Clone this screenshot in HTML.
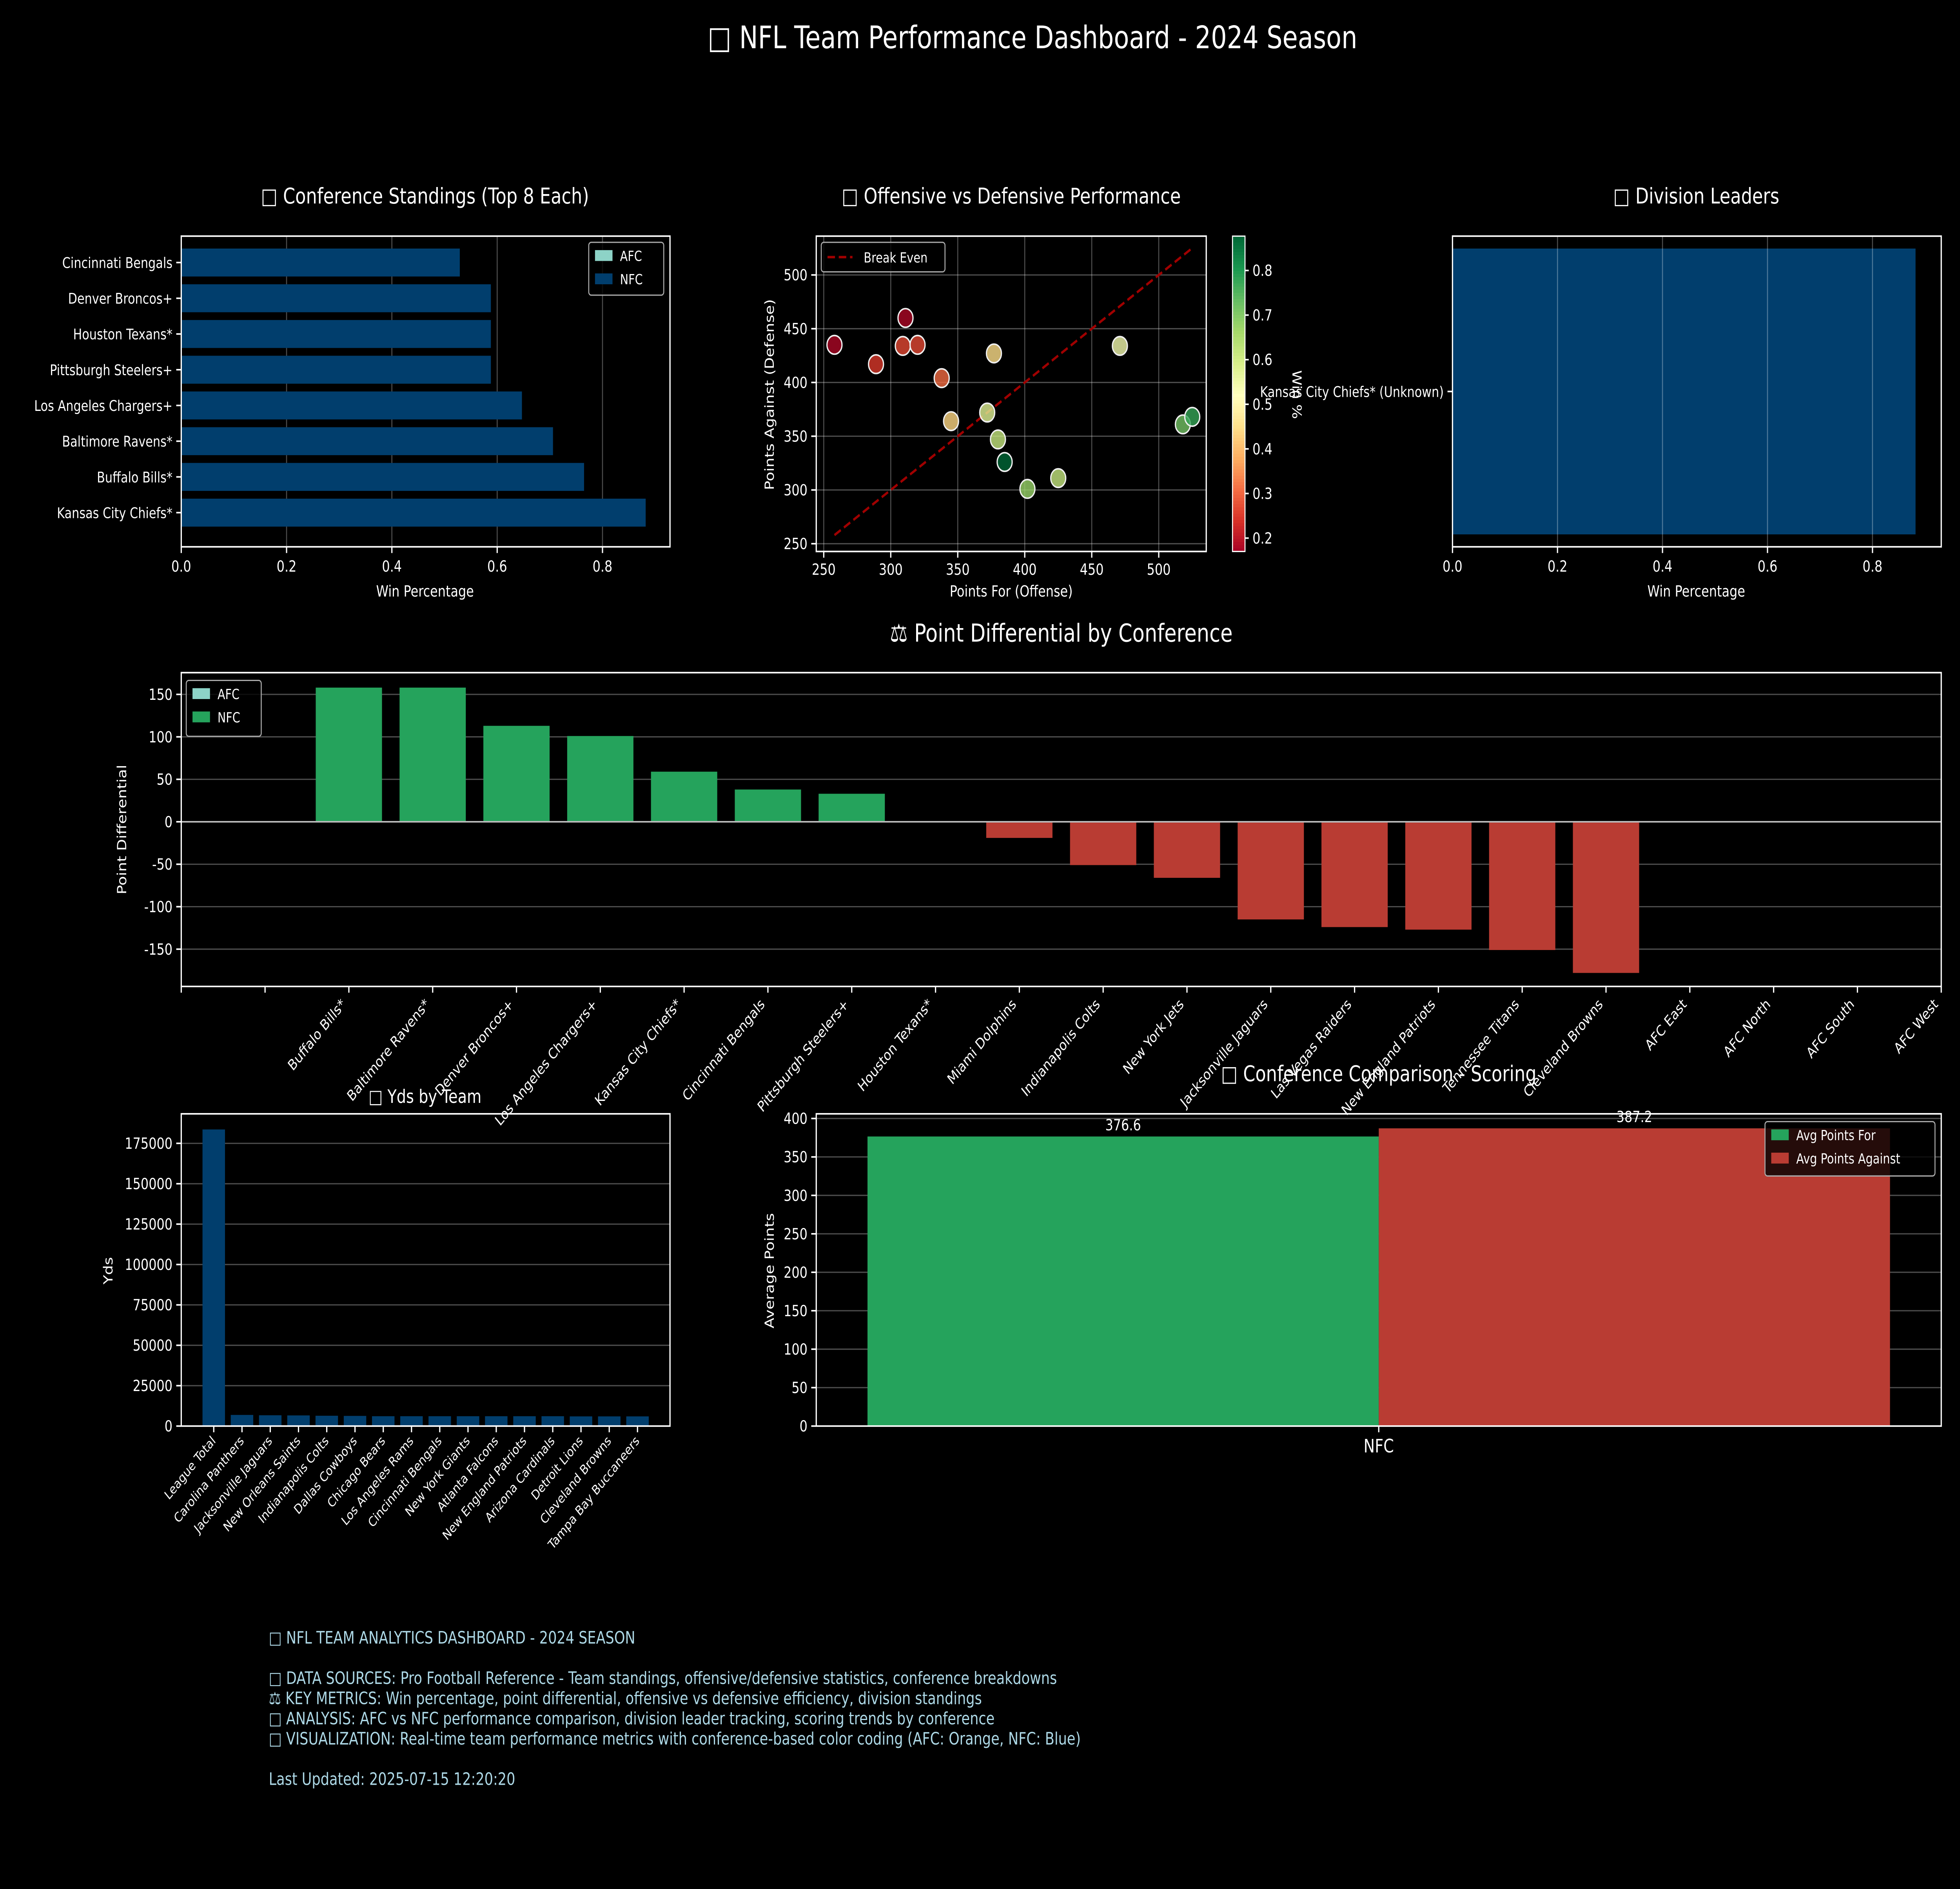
<!DOCTYPE html>
<html><head><meta charset="utf-8"><style>
html,body{margin:0;padding:0;background:#000;width:100%;height:100%;overflow:hidden;}
svg{display:block;width:100vw;height:100vh;}
text{font-family:"DejaVu Sans","Liberation Sans",sans-serif;fill:#fff;}
</style></head><body>
<svg id="root" xmlns="http://www.w3.org/2000/svg" viewBox="0 0 1568 1216" preserveAspectRatio="none">
<rect x="0" y="0" width="1568" height="1216" fill="#000"/>
<text x="826" y="31" font-size="20" text-anchor="middle">□ NFL Team Performance Dashboard - 2024 Season</text>
<g id="g1"></g>
<g id="g2"></g>
<g id="g3"></g>
<g id="g4"></g>
<g id="g5"></g>
<g id="g6"></g>
<g font-size="11">
<text x="215" y="1058" style="fill:#add8e6">□ NFL TEAM ANALYTICS DASHBOARD - 2024 SEASON</text>
<text x="215" y="1084" style="fill:#add8e6">□ DATA SOURCES: Pro Football Reference - Team standings, offensive/defensive statistics, conference breakdowns</text>
<text x="215" y="1097" style="fill:#add8e6">⚖ KEY METRICS: Win percentage, point differential, offensive vs defensive efficiency, division standings</text>
<text x="215" y="1110" style="fill:#add8e6">□ ANALYSIS: AFC vs NFC performance comparison, division leader tracking, scoring trends by conference</text>
<text x="215" y="1123" style="fill:#add8e6">□ VISUALIZATION: Real-time team performance metrics with conference-based color coding (AFC: Orange, NFC: Blue)</text>
<text x="215" y="1149" style="fill:#add8e6">Last Updated: 2025-07-15 12:20:20</text>
</g>
</svg>
<script>
// ---- data ----
const standTeams = ["Kansas City Chiefs*","Buffalo Bills*","Baltimore Ravens*","Los Angeles Chargers+","Pittsburgh Steelers+","Houston Texans*","Denver Broncos+","Cincinnati Bengals"];
const standWin = [0.882,0.765,0.706,0.647,0.588,0.588,0.588,0.529];
const winTicks = [0,0.2,0.4,0.6,0.8];
const scatPF = [258,311,289,309,320,338,377,345,372,380,385,402,425,471,518,525];
const scatPA = [435,460,417,434,435,404,427,364,372,347,326,301,311,434,361,368];
const scatWin = [0.18,0.18,0.25,0.27,0.27,0.31,0.45,0.44,0.58,0.62,0.88,0.68,0.62,0.55,0.72,0.78];
const scatXTicks = [250,300,350,400,450,500];
const scatYTicks = [250,300,350,400,450,500];
const cbTicks = [0.2,0.3,0.4,0.5,0.6,0.7,0.8];
const divTeams = ["Kansas City Chiefs* (Unknown)"];
const divWin = [0.882];
const pdTeams = ["Buffalo Bills*","Baltimore Ravens*","Denver Broncos+","Los Angeles Chargers+","Kansas City Chiefs*","Cincinnati Bengals","Pittsburgh Steelers+","Houston Texans*","Miami Dolphins","Indianapolis Colts","New York Jets","Jacksonville Jaguars","Las Vegas Raiders","New England Patriots","Tennessee Titans","Cleveland Browns","AFC East","AFC North","AFC South","AFC West"];
const pdValues = [158,158,113,101,59,38,33,0,-19,-51,-66,-115,-124,-127,-151,-178,null,null,null,null];
const pdTicks = [-150,-100,-50,0,50,100,150];
const ydsTeams = ["League Total","Carolina Panthers","Jacksonville Jaguars","New Orleans Saints","Indianapolis Colts","Dallas Cowboys","Chicago Bears","Los Angeles Rams","Cincinnati Bengals","New York Giants","Atlanta Falcons","New England Patriots","Arizona Cardinals","Detroit Lions","Cleveland Browns","Tampa Bay Buccaneers"];
const ydsValues = [183600,6900,6700,6600,6400,6300,6100,6100,6100,6100,6100,6100,6100,6000,6000,6000];
const ydsTicks = [0,25000,50000,75000,100000,125000,150000,175000];
const confCats = ["NFC"];
const confFor = [376.6];
const confAgainst = [387.2];
const confTicks = [0,50,100,150,200,250,300,350,400];

const NS="http://www.w3.org/2000/svg";
function mk(parent,tag,attrs,txt){const e=document.createElementNS(NS,tag);for(const k in attrs)e.setAttribute(k,attrs[k]);if(txt!==undefined)e.textContent=txt;parent.appendChild(e);return e;}
function lin(d0,d1,r0,r1){return v=>r0+(v-d0)/(d1-d0)*(r1-r0);}
const BLUE="#013e6d",GREEN="#25a35c",RED="#b93c33",GRID="rgba(255,255,255,0.3)";
const RdYlGn=[[165,0,38],[215,48,39],[244,109,67],[253,174,97],[254,224,139],[255,255,191],[217,239,139],[166,217,106],[102,189,99],[26,152,80],[0,104,55]];
function cmap(t){t=Math.max(0,Math.min(1,t));const p=t*10,i=Math.min(9,Math.floor(p)),f=p-i;const a=RdYlGn[i],b=RdYlGn[i+1];return `rgb(${a.map((v,k)=>Math.round(v+(b[k]-v)*f)).join(',')})`;}
function frame(g,x0,y0,x1,y1){const r=mk(g,'rect',{x:x0,y:y0,width:x1-x0,height:y1-y0,fill:'none',stroke:'#fff','stroke-width':1});}
function legendBox(g,x,y,w,h,items,fs){const b=mk(g,'rect',{x:x,y:y,width:w,height:h,rx:2,fill:'rgba(0,0,0,0.8)',stroke:'#aaa','stroke-width':0.8});
 items.forEach((it,i)=>{const s=mk(g,'rect',{x:x+5,y:y+5+i*15,width:14,height:7,fill:it[1]});
 const t=mk(g,'text',{x:x+25,y:y+12+i*15,'font-size':fs||9},it[0]);});}

// ---- 1 standings ----
(function(){const g=document.getElementById('g1');const X0=145,X1=536,Y0=152,Y1=352;const sx=lin(0,0.8,145,482);
 const t=mk(g,'text',{x:340,y:131,'font-size':14,'text-anchor':'middle'},'□ Conference Standings (Top 8 Each)');
 winTicks.forEach(v=>{mk(g,'line',{x1:sx(v),x2:sx(v),y1:Y0,y2:Y1,stroke:GRID,'stroke-width':0.8});mk(g,'line',{x1:sx(v),x2:sx(v),y1:Y1,y2:Y1+4,stroke:'#fff'});const l=mk(g,'text',{x:sx(v),y:Y1+16,'font-size':10,'text-anchor':'middle'},v.toFixed(1));});
 const step=23;standTeams.forEach((n,i)=>{const cy=330-i*step;const b=mk(g,'rect',{x:X0,y:cy-9,width:sx(standWin[i])-X0,height:18,fill:BLUE});
 mk(g,'line',{x1:X0-4,x2:X0,y1:cy,y2:cy,stroke:'#fff'});const l=mk(g,'text',{x:X0-7,y:cy+3.5,'font-size':9.5,'text-anchor':'end'},n);});
 frame(g,X0,Y0,X1,Y1);
 const a=mk(g,'text',{x:340,y:384,'font-size':10,'text-anchor':'middle'},'Win Percentage');
 legendBox(g,471,156,60,34,[['AFC','#8dd3c7'],['NFC',BLUE]]);})();

// ---- 2 scatter ----
(function(){const g=document.getElementById('g2');const X0=653,X1=965,Y0=152,Y1=355;const sx=lin(250,500,659,927),sy=lin(250,500,350,177);
 const t=mk(g,'text',{x:809,y:131,'font-size':14,'text-anchor':'middle'},'□ Offensive vs Defensive Performance');
 scatXTicks.forEach(v=>{mk(g,'line',{x1:sx(v),x2:sx(v),y1:Y0,y2:Y1,stroke:GRID,'stroke-width':0.8});mk(g,'line',{x1:sx(v),x2:sx(v),y1:Y1,y2:Y1+4,stroke:'#fff'});const l=mk(g,'text',{x:sx(v),y:Y1+15,'font-size':10,'text-anchor':'middle'},v);});
 scatYTicks.forEach(v=>{mk(g,'line',{x1:X0,x2:X1,y1:sy(v),y2:sy(v),stroke:GRID,'stroke-width':0.8});mk(g,'line',{x1:X0-4,x2:X0,y1:sy(v),y2:sy(v),stroke:'#fff'});const l=mk(g,'text',{x:X0-7,y:sy(v)+3.5,'font-size':10,'text-anchor':'end'},v);});
 const lo=Math.min(...scatPF),hi=Math.max(...scatPF);const be=mk(g,'line',{x1:sx(lo),y1:sy(lo),x2:sx(hi),y2:sy(hi),stroke:'#a00000','stroke-width':1.6,'stroke-dasharray':'6,3'});
 const wmin=0.17,wmax=0.877;scatPF.forEach((v,i)=>{const c=mk(g,'circle',{cx:sx(v),cy:sy(scatPA[i]),r:6,fill:cmap((scatWin[i]-wmin)/(wmax-wmin)),'fill-opacity':0.8,stroke:'#eee','stroke-width':1});});
 frame(g,X0,Y0,X1,Y1);
 const xa=mk(g,'text',{x:809,y:384,'font-size':10,'text-anchor':'middle'},'Points For (Offense)');
 const ya=mk(g,'text',{x:0,y:0,'font-size':10,'text-anchor':'middle',transform:'translate(619,254) rotate(-90)'},'Points Against (Defense)');
 const lb=mk(g,'rect',{x:657,y:156,width:99,height:19,rx:2,fill:'rgba(0,0,0,0.8)',stroke:'#aaa','stroke-width':0.8});
 mk(g,'line',{x1:662,x2:682,y1:165.5,y2:165.5,stroke:'#a00000','stroke-width':1.6,'stroke-dasharray':'6,3'});const le=mk(g,'text',{x:691,y:169,'font-size':9},'Break Even');
 const CX=986,CW=10;const cy=lin(wmin,wmax,355,152);for(let k=0;k<100;k++){const y=152+k*203/100;mk(g,'rect',{x:CX,y:y,width:CW,height:2.2,fill:cmap(1-k/100)});}
 const cb=mk(g,'rect',{x:CX,y:152,width:CW,height:203,fill:'none',stroke:'#fff','stroke-width':0.8});
 cbTicks.forEach(v=>{mk(g,'line',{x1:CX+CW,x2:CX+CW+3,y1:cy(v),y2:cy(v),stroke:'#fff'});const l=mk(g,'text',{x:CX+CW+6,y:cy(v)+3.5,'font-size':10},v.toFixed(1));});
 const cl=mk(g,'text',{x:0,y:0,'font-size':10,'text-anchor':'middle',transform:'translate(1034,254) rotate(90)'},'Win %');})();

// ---- 3 division leaders ----
(function(){const g=document.getElementById('g3');const X0=1162,X1=1553,Y0=152,Y1=352;const sx=lin(0,0.8,1162,1498);
 const t=mk(g,'text',{x:1357,y:131,'font-size':14,'text-anchor':'middle'},'□ Division Leaders');
 divTeams.forEach((n,i)=>{const b=mk(g,'rect',{x:X0,y:160,width:sx(divWin[i])-X0,height:184,fill:BLUE});
  mk(g,'line',{x1:X0-4,x2:X0,y1:252,y2:252,stroke:'#fff'});const l=mk(g,'text',{x:X0-7,y:255.5,'font-size':9.5,'text-anchor':'end'},n);});
 winTicks.forEach(v=>{mk(g,'line',{x1:sx(v),x2:sx(v),y1:Y0,y2:Y1,stroke:GRID,'stroke-width':0.8});mk(g,'line',{x1:sx(v),x2:sx(v),y1:Y1,y2:Y1+4,stroke:'#fff'});const l=mk(g,'text',{x:sx(v),y:Y1+16,'font-size':10,'text-anchor':'middle'},v.toFixed(1));});
 frame(g,X0,Y0,X1,Y1);
 const a=mk(g,'text',{x:1357,y:384,'font-size':10,'text-anchor':'middle'},'Win Percentage');})();

// ---- 4 point differential ----
(function(){const g=document.getElementById('g4');const X0=145,X1=1553,Y0=433,Y1=635;const sx=lin(-2,19,145,1553),sy=lin(0,150,529,447);
 const t=mk(g,'text',{x:849,y:413,'font-size':16,'text-anchor':'middle'},'⚖ Point Differential by Conference');
 pdTicks.forEach(v=>{mk(g,'line',{x1:X0,x2:X1,y1:sy(v),y2:sy(v),stroke:GRID,'stroke-width':0.8});mk(g,'line',{x1:X0-4,x2:X0,y1:sy(v),y2:sy(v),stroke:'#fff'});const l=mk(g,'text',{x:X0-7,y:sy(v)+3.5,'font-size':10,'text-anchor':'end'},v);});
 pdValues.forEach((v,i)=>{if(v===null||v===0)return;const x=sx(i);const b=mk(g,'rect',{x:x-26.5,y:Math.min(sy(v),sy(0)),width:53,height:Math.abs(sy(v)-sy(0)),fill:v>0?GREEN:RED});});
 mk(g,'line',{x1:X0,x2:X1,y1:sy(0),y2:sy(0),stroke:'#bbb','stroke-width':1});
 [-2,-1].forEach(i=>mk(g,'line',{x1:sx(i),x2:sx(i),y1:Y1,y2:Y1+4,stroke:'#fff'}));
 pdTeams.forEach((n,i)=>{const x=sx(i);mk(g,'line',{x1:x,x2:x,y1:Y1,y2:Y1+4,stroke:'#fff'});const l=mk(g,'text',{x:0,y:0,'font-size':9.5,'text-anchor':'end',transform:`translate(${x-2},${Y1+12}) rotate(-45)`},n);});
 frame(g,X0,Y0,X1,Y1);
 const ya=mk(g,'text',{x:0,y:0,'font-size':10,'text-anchor':'middle',transform:'translate(101,534) rotate(-90)'},'Point Differential');
 legendBox(g,149,438,60,36,[['AFC','#8dd3c7'],['NFC',GREEN]]);})();

// ---- 5 yds ----
(function(){const g=document.getElementById('g5');const X0=145,X1=536,Y0=717,Y1=918;const sy=lin(0,175000,918,736);const sx=i=>171+i*22.6;
 ydsTicks.forEach(v=>{mk(g,'line',{x1:X0,x2:X1,y1:sy(v),y2:sy(v),stroke:GRID,'stroke-width':0.8});mk(g,'line',{x1:X0-4,x2:X0,y1:sy(v),y2:sy(v),stroke:'#fff'});const l=mk(g,'text',{x:X0-7,y:sy(v)+3.5,'font-size':10,'text-anchor':'end'},v);});
 ydsValues.forEach((v,i)=>{const b=mk(g,'rect',{x:sx(i)-9,y:sy(v),width:18,height:sy(0)-sy(v),fill:BLUE});});
 ydsTeams.forEach((n,i)=>{const x=sx(i);mk(g,'line',{x1:x,x2:x,y1:Y1,y2:Y1+4,stroke:'#fff'});const l=mk(g,'text',{x:0,y:0,'font-size':8.5,'text-anchor':'end',transform:`translate(${x+2},${Y1+10}) rotate(-45)`},n);});
 frame(g,X0,Y0,X1,Y1);
 const t=mk(g,'text',{x:340,y:710,'font-size':12,'text-anchor':'middle'},'□ Yds by Team');
 const ya=mk(g,'text',{x:0,y:0,'font-size':10,'text-anchor':'middle',transform:'translate(90,818) rotate(-90)'},'Yds');})();

// ---- 6 conference comparison ----
(function(){const g=document.getElementById('g6');const X0=653,X1=1553,Y0=717,Y1=918;const sy=lin(0,400,918,720);const bw=409;
 confTicks.forEach(v=>{mk(g,'line',{x1:X0,x2:X1,y1:sy(v),y2:sy(v),stroke:GRID,'stroke-width':0.8});mk(g,'line',{x1:X0-4,x2:X0,y1:sy(v),y2:sy(v),stroke:'#fff'});const l=mk(g,'text',{x:X0-7,y:sy(v)+3.5,'font-size':10,'text-anchor':'end'},v);});
 confCats.forEach((c,i)=>{const cx=1103+i*900;
  const a=mk(g,'rect',{x:cx-bw,y:sy(confFor[i]),width:bw,height:sy(0)-sy(confFor[i]),fill:GREEN});
  const b=mk(g,'rect',{x:cx,y:sy(confAgainst[i]),width:bw,height:sy(0)-sy(confAgainst[i]),fill:RED});
  const la=mk(g,'text',{x:cx-bw/2,y:sy(confFor[i])-4,'font-size':10,'text-anchor':'middle'},confFor[i].toFixed(1));
  const lb=mk(g,'text',{x:cx+bw/2,y:sy(confAgainst[i])-4,'font-size':10,'text-anchor':'middle'},confAgainst[i].toFixed(1));
  mk(g,'line',{x1:cx,x2:cx,y1:Y1,y2:Y1+4,stroke:'#fff'});const cl=mk(g,'text',{x:cx,y:Y1+17,'font-size':12,'text-anchor':'middle'},c);});
 frame(g,X0,Y0,X1,Y1);
 const t=mk(g,'text',{x:1103,y:696,'font-size':14,'text-anchor':'middle'},'□ Conference Comparison - Scoring');
 const ya=mk(g,'text',{x:0,y:0,'font-size':10,'text-anchor':'middle',transform:'translate(619,818) rotate(-90)'},'Average Points');
 legendBox(g,1412,722,136,35,[['Avg Points For',GREEN],['Avg Points Against',RED]]);})();
</script>
</body></html>
